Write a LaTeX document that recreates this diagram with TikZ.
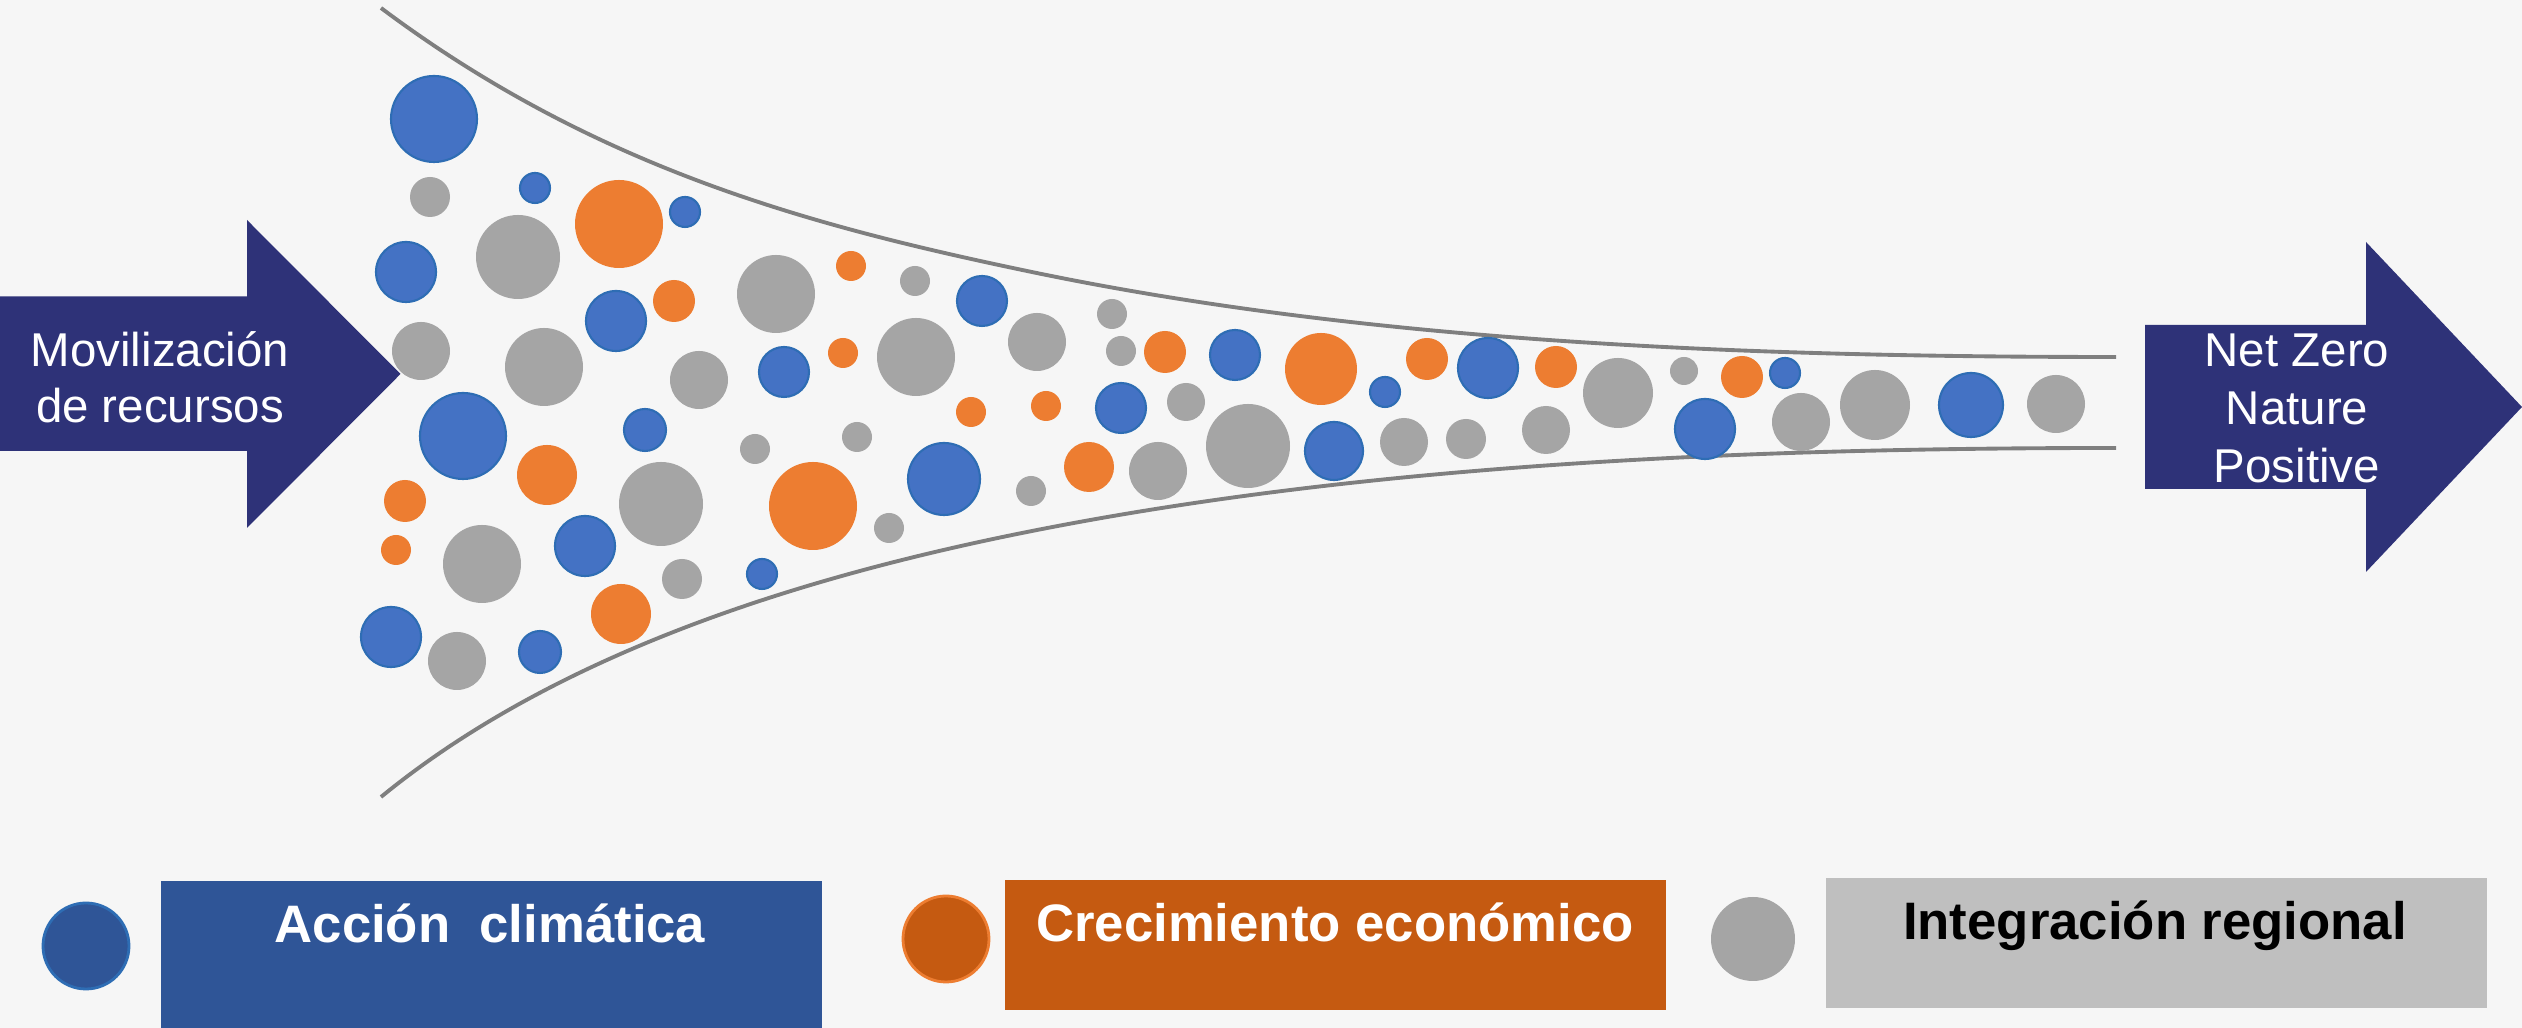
\documentclass[tikz,border=0pt]{standalone}
\usepackage{fontspec}
\setmainfont{Liberation Sans}
\usepackage{tikz}
\usetikzlibrary{shapes,arrows}
\definecolor{bggray}{HTML}{F6F6F6}
\definecolor{navy}{HTML}{2E3278}
\definecolor{climablue}{HTML}{4472C4}
\definecolor{climaline}{HTML}{2E6DB4}
\definecolor{econorange}{HTML}{ED7D31}
\definecolor{integgray}{HTML}{A5A5A5}
\definecolor{funnelgray}{HTML}{7F7F7F}
\definecolor{boxblue}{HTML}{2F5597}
\definecolor{boxorange}{HTML}{C55A11}
\definecolor{boxgray}{HTML}{BFBFBF}
\tikzset{auto, >=latex', font=\fontsize{13.5}{16}\selectfont}
\tikzstyle{dot} = [circle, inner sep=0pt, outer sep=0pt]
\tikzstyle{clima} = [dot, fill=climablue, draw=climaline, line width=0.6pt]
\tikzstyle{econ} = [dot, fill=econorange]
\tikzstyle{integ} = [dot, fill=integgray]
\tikzstyle{funnel} = [draw=funnelgray, line width=1.1pt]
\tikzstyle{legendbox} = [rectangle, inner sep=0pt, outer sep=0pt, anchor=north west, minimum width=66.1mm]
\tikzstyle{arrowtext} = [text=white, align=center]
\tikzstyle{legendtext} = [anchor=base, font=\fontsize{15}{18}\selectfont\bfseries]

\begin{document}
\begin{tikzpicture}[x=0.1mm, y=-0.1mm]
		\fill [bggray] (0,0) rectangle (2522,1028);
		\useasboundingbox (0,0) rectangle (2522,1028);

		% funnel
		\draw [funnel] (381,8) .. controls (596,169) and (812,226) .. (1027,271) .. controls (1377,344.5) and (1766,357) .. (2116,357);
		\draw [funnel] (381,797) .. controls (561,649.4) and (812,575) .. (1027,532) .. controls (1377,462) and (1766,448) .. (2116,448);

		% arrows
		\fill [navy] (0,296.5) -- (247,296.5) -- (247,220) -- (400.5,374) -- (247,528) -- (247,451) -- (0,451) -- cycle;
		\fill [navy] (2145,325) -- (2366,325) -- (2366,242) -- (2522,407) -- (2366,572) -- (2366,489) -- (2145,489) -- cycle;
		\node [arrowtext] (mov-text) at (160,377) {Movilización\\de recursos};
		\node [arrowtext, font=\fontsize{13.5}{16.5}\selectfont] (net-text) at (2297,408) {Net Zero\\Nature\\Positive};

		% accion climatica
		\node [clima, minimum size=8.6mm] (clima-1) at (434,119) {};
		\node [clima, minimum size=3mm] (clima-2) at (535,188) {};
		\node [clima, minimum size=3mm] (clima-3) at (685,212) {};
		\node [clima, minimum size=6mm] (clima-4) at (406,272) {};
		\node [clima, minimum size=6mm] (clima-5) at (616,321) {};
		\node [clima, minimum size=5mm] (clima-6) at (982,301) {};
		\node [clima, minimum size=5mm] (clima-7) at (784,372) {};
		\node [clima, minimum size=8.6mm] (clima-8) at (463,436) {};
		\node [clima, minimum size=4.2mm] (clima-9) at (645,430) {};
		\node [clima, minimum size=5mm] (clima-10) at (1121,408) {};
		\node [clima, minimum size=7.2mm] (clima-11) at (944,479) {};
		\node [clima, minimum size=6mm] (clima-12) at (585,546) {};
		\node [clima, minimum size=3mm] (clima-13) at (762,574) {};
		\node [clima, minimum size=6mm] (clima-14) at (391,637) {};
		\node [clima, minimum size=4.2mm] (clima-15) at (540,652) {};
		\node [clima, minimum size=5mm] (clima-16) at (1235,355) {};
		\node [clima, minimum size=3mm] (clima-17) at (1385,392) {};
		\node [clima, minimum size=6mm] (clima-18) at (1488,368) {};
		\node [clima, minimum size=5.8mm] (clima-19) at (1334,451) {};
		\node [clima, minimum size=6mm] (clima-20) at (1705,429) {};
		\node [clima, minimum size=3mm] (clima-21) at (1785,373) {};
		\node [clima, minimum size=6.4mm] (clima-22) at (1971,405) {};

		% crecimiento economico
		\node [econ, minimum size=8.8mm] (econ-1) at (619,224) {};
		\node [econ, minimum size=4.2mm] (econ-2) at (674,301) {};
		\node [econ, minimum size=3mm] (econ-3) at (851,266) {};
		\node [econ, minimum size=3mm] (econ-4) at (843,353) {};
		\node [econ, minimum size=3mm] (econ-5) at (971,412) {};
		\node [econ, minimum size=3mm] (econ-6) at (1046,406) {};
		\node [econ, minimum size=4.2mm] (econ-7) at (405,501) {};
		\node [econ, minimum size=6mm] (econ-8) at (547,475) {};
		\node [econ, minimum size=8.8mm] (econ-9) at (813,506) {};
		\node [econ, minimum size=5mm] (econ-10) at (1089,467) {};
		\node [econ, minimum size=3mm] (econ-11) at (396,550) {};
		\node [econ, minimum size=6mm] (econ-12) at (621,614) {};
		\node [econ, minimum size=4.2mm] (econ-13) at (1165,352) {};
		\node [econ, minimum size=7.2mm] (econ-14) at (1321,369) {};
		\node [econ, minimum size=4.2mm] (econ-15) at (1427,359) {};
		\node [econ, minimum size=4.2mm] (econ-16) at (1556,367) {};
		\node [econ, minimum size=4.2mm] (econ-17) at (1742,377) {};

		% integracion regional
		\node [integ, minimum size=4mm] (integ-1) at (430,197) {};
		\node [integ, minimum size=8.4mm] (integ-2) at (518,257) {};
		\node [integ, minimum size=7.8mm] (integ-3) at (776,294) {};
		\node [integ, minimum size=3mm] (integ-4) at (915,281) {};
		\node [integ, minimum size=5.8mm] (integ-5) at (1037,342) {};
		\node [integ, minimum size=3mm] (integ-6) at (1112,314) {};
		\node [integ, minimum size=3mm] (integ-7) at (1121,351) {};
		\node [integ, minimum size=5.8mm] (integ-8) at (421,351) {};
		\node [integ, minimum size=7.8mm] (integ-9) at (544,367) {};
		\node [integ, minimum size=5.8mm] (integ-10) at (699,380) {};
		\node [integ, minimum size=7.8mm] (integ-11) at (916,357) {};
		\node [integ, minimum size=3mm] (integ-12) at (755,449) {};
		\node [integ, minimum size=3mm] (integ-13) at (857,437) {};
		\node [integ, minimum size=8.4mm] (integ-14) at (661,504) {};
		\node [integ, minimum size=3mm] (integ-15) at (1031,491) {};
		\node [integ, minimum size=3mm] (integ-16) at (889,528) {};
		\node [integ, minimum size=7.8mm] (integ-17) at (482,564) {};
		\node [integ, minimum size=4mm] (integ-18) at (682,579) {};
		\node [integ, minimum size=5.8mm] (integ-19) at (457,661) {};
		\node [integ, minimum size=5.8mm] (integ-20) at (1158,471) {};
		\node [integ, minimum size=3.8mm] (integ-21) at (1186,402) {};
		\node [integ, minimum size=8.4mm] (integ-22) at (1248,446) {};
		\node [integ, minimum size=4.8mm] (integ-23) at (1404,442) {};
		\node [integ, minimum size=4mm] (integ-24) at (1466,439) {};
		\node [integ, minimum size=4.8mm] (integ-25) at (1546,430) {};
		\node [integ, minimum size=7mm] (integ-26) at (1618,393) {};
		\node [integ, minimum size=2.8mm] (integ-27) at (1684,371) {};
		\node [integ, minimum size=5.8mm] (integ-28) at (1801,422) {};
		\node [integ, minimum size=7mm] (integ-29) at (1875,405) {};
		\node [integ, minimum size=5.8mm] (integ-30) at (2056,404) {};

		% legend
		\node [dot, fill=boxblue, draw=climaline, line width=0.8pt, minimum size=8.6mm] (clima-key) at (86,946) {};
		\node [legendbox, fill=boxblue, minimum height=14.7mm] (clima-box) at (161,881) {};
		\node [legendtext, text=white] (clima-label) at (490,943) {Acción\ \ climática};
		\node [dot, fill=boxorange, draw=econorange, line width=0.8pt, minimum size=8.6mm] (econ-key) at (946,939) {};
		\node [legendbox, fill=boxorange, minimum height=13mm] (econ-box) at (1005,880) {};
		\node [legendtext, text=white] (econ-label) at (1335,942) {Crecimiento económico};
		\node [integ, minimum size=8.4mm] (integ-key) at (1753,939) {};
		\node [legendbox, fill=boxgray, minimum height=13mm] (integ-box) at (1826,878) {};
		\node [legendtext, text=black] (integ-label) at (2155,940) {Integración regional};
	\end{tikzpicture}
\end{document}
